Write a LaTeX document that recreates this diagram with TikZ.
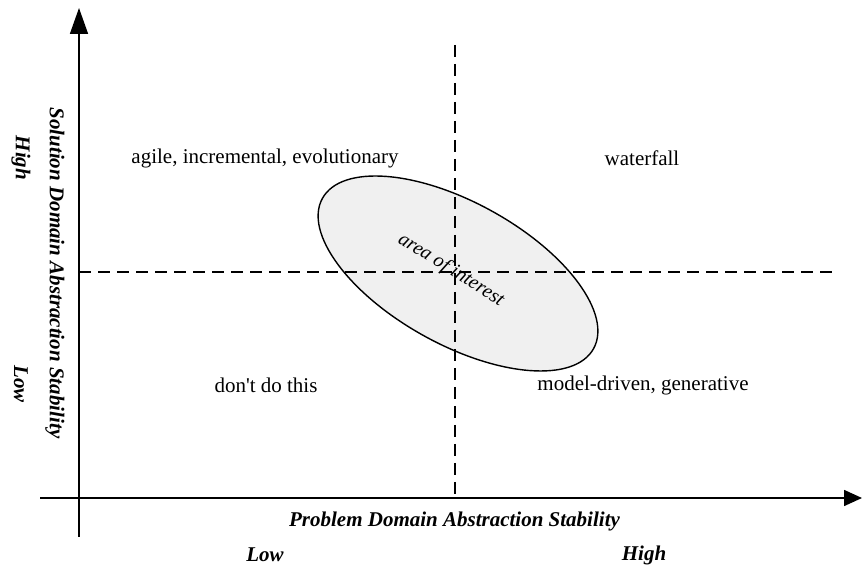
\documentclass[tikz,border=0pt]{standalone}
\usepackage{fontspec}
\setmainfont{Liberation Serif}
\newfontfamily\tnr{Liberation Serif}
\usetikzlibrary{arrows.meta}
\begin{document}
\begin{tikzpicture}[x=1pt,y=1pt,
  axis/.style={line width=1.6pt},
  divider/.style={line width=1.3pt, dash pattern=on 12pt off 7pt},
  quad/.style={font=\tnr\fontsize{21}{24}\selectfont, inner sep=0pt},
  axlabel/.style={font=\tnr\fontsize{21}{24}\selectfont\bfseries\itshape, inner sep=0pt}]
\useasboundingbox (0,0) rectangle (863,567);
% axes
\coordinate (yb) at (79,30);
\coordinate (yt) at (79,559);
\coordinate (xl) at (40,69);
\coordinate (xr) at (862,69);
\draw[axis, -{Triangle[length=26pt,width=18pt]}] (yb) -- (yt);
\draw[axis, -{Triangle[length=18pt,width=16pt]}] (xl) -- (xr);
% area of interest
\draw[line width=1.4pt, fill=black!6] (458,293.5) ellipse [x radius=155, y radius=71, rotate=-29];
% dividers
\coordinate (hl) at (79,295);
\coordinate (hr) at (835,295);
\coordinate (vt) at (455,522);
\coordinate (vb) at (455,69);
\draw[divider] (hl) -- (hr);
\draw[divider] (vt) -- (vb);
\node[font=\tnr\fontsize{20}{23}\selectfont\itshape, rotate=-32, inner sep=0pt] (aoi) at (451,297) {area of interest};
% quadrant labels
\node[quad] (q1) at (265,409) {agile, incremental, evolutionary};
\node[quad] (q2) at (642,409) {waterfall};
\node[quad] (q3) at (266,182) {don't do this};
\node[quad] (q4) at (643,182) {model-driven, generative};
% axis labels
\node[axlabel] (xlab) at (454.5,46) {Problem Domain Abstraction Stability};
\node[axlabel] (xlow) at (265,12) {Low};
\node[axlabel] (xhigh) at (644,12) {High};
\node[axlabel, rotate=-90] (ylab) at (55,294) {Solution Domain Abstraction Stability};
\node[axlabel, rotate=-90] (yhigh) at (21,409) {High};
\node[axlabel, rotate=-90] (ylow) at (21,183) {Low};
\end{tikzpicture}
\end{document}
